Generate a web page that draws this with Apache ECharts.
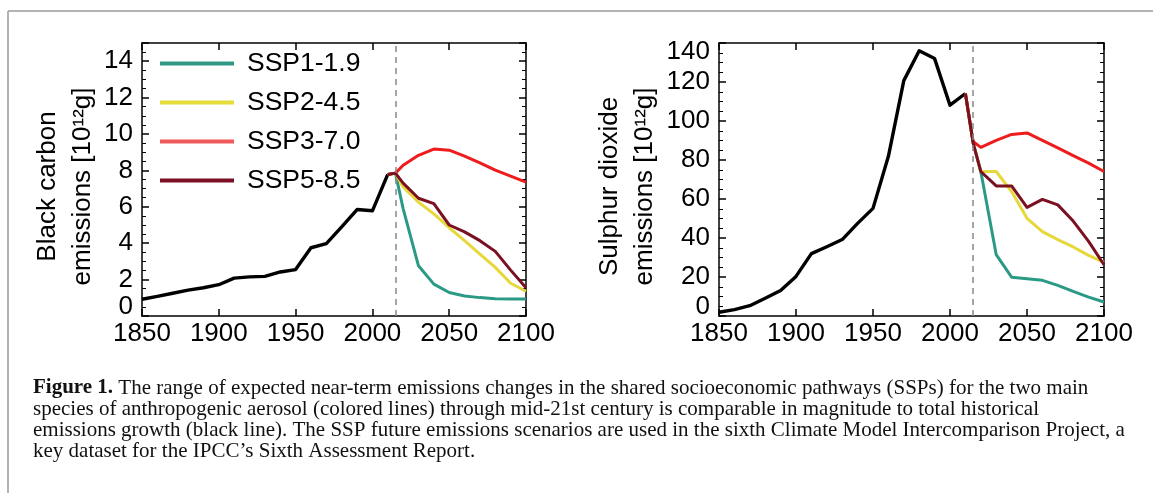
<!DOCTYPE html>
<html><head><meta charset="utf-8">
<script src="https://cdn.jsdelivr.net/npm/echarts@6/dist/echarts.min.js"></script>
<style>html,body{margin:0;padding:0;background:#fff}#c{width:1153px;height:493px}</style>
</head><body><div id="c"></div>
<script>
// ---- data ----
const histYears = [1850,1860,1870,1880,1890,1900,1910,1920,1930,1940,1950,1960,1970,1980,1990,2000,2010];
const sspYears  = [2010,2015,2020,2030,2040,2050,2060,2070,2080,2090,2100];

const bcHist   = [0.92,1.08,1.25,1.42,1.55,1.72,2.08,2.15,2.18,2.42,2.55,3.75,3.98,4.9,5.85,5.78,7.78];
const bcSsp119 = [7.78,7.85,5.9,2.76,1.75,1.29,1.1,1.01,0.95,0.93,0.93];
const bcSsp245 = [7.78,7.85,7.09,6.26,5.61,4.85,4.14,3.4,2.67,1.8,1.36];
const bcSsp370 = [7.78,7.85,8.28,8.83,9.17,9.11,8.78,8.41,8.01,7.68,7.36];
const bcSsp585 = [7.78,7.85,7.3,6.47,6.17,5.0,4.62,4.14,3.55,2.52,1.55];

const so2Hist   = [1.9,3.3,5.3,9.1,13.1,20.3,32,35.5,39.2,47.5,55.2,81.9,120.7,136,132,108.1,114.1];
const so2Ssp119 = [114.1,88.8,74.1,31.5,19.9,19.1,18.3,15.7,12.6,9.7,7.2];
const so2Ssp245 = [114.1,88.8,74.1,74.1,63.8,50.1,43.3,39.2,35.4,31.1,27.5];
const so2Ssp370 = [114.1,89.5,86.5,90.1,93.1,93.9,90.1,86.2,82.2,78.4,74.1];
const so2Ssp585 = [114.1,88.8,74.1,66.7,66.7,55.7,59.8,57,48.7,38.3,26.3];

const sspNames  = ['SSP1-1.9','SSP2-4.5','SSP3-7.0','SSP5-8.5'];
const xTicks    = [1850,1900,1950,2000,2050,2100];
const bcTicks   = [0,2,4,6,8,10,12,14];
const so2Ticks  = [0,20,40,60,80,100,120,140];
const dividerYear = 2015;

// ---- styles ----
const sspColors   = ['#2A9A86','#E6D83A','#EE1C1C','#7A1022'];
const legendColors= ['#2E9A86','#E6DC3C','#F05A5A','#7A1022'];
const SANS = 'Liberation Sans, Arial, Helvetica, sans-serif';
const SERIF = 'Liberation Serif, Times New Roman, serif';
const TICK_FS = 26;

const pair = (xs, ys) => xs.map((x, i) => [x, ys[i]]);

function xAxes(grid) {
  const base = {
    type: 'value', gridIndex: grid, min: 1850, max: 2100, interval: 50,
    axisLine: {show: true, onZero: false, lineStyle: {color: '#000', width: 1.5}},
    axisTick: {show: true, inside: true, length: 7, lineStyle: {color: '#000', width: 1.5}},
    splitLine: {show: false}
  };
  return [
    Object.assign({}, base, {position: 'bottom',
      axisLabel: {show: true, margin: 5, color: '#000', fontFamily: SANS, fontSize: TICK_FS,
        formatter: v => xTicks.includes(v) ? String(v) : ''}}),
    Object.assign({}, base, {position: 'top', axisLabel: {show: false}})
  ];
}

function yAxes(grid, max, interval, ticks, name, nameGap) {
  const base = {
    type: 'value', gridIndex: grid, min: 0, max: max, interval: interval,
    axisLine: {show: true, onZero: false, lineStyle: {color: '#000', width: 1.5}},
    axisTick: {show: true, inside: true, length: 7, lineStyle: {color: '#000', width: 1.5}},
    minorTick: {show: true, splitNumber: 4, length: 4, lineStyle: {color: '#000', width: 1}},
    splitLine: {show: false}, minorSplitLine: {show: false}
  };
  const topV = ticks[ticks.length - 1];
  return [
    Object.assign({}, base, {position: 'left',
      name: name, nameLocation: 'middle', nameGap: nameGap,
      nameTextStyle: {color: '#000', fontFamily: SANS, fontSize: 26, lineHeight: 35, padding: [0, 14, 0, 0]},
      axisLabel: {show: true, margin: 9, color: '#000', fontFamily: SANS, fontSize: TICK_FS,
        formatter: v => {
          if (!ticks.includes(v)) return '';
          if (v === 0) return '{lo|0}';
          if (v === topV && topV === max) return '{hi|' + v + '}';
          return String(v);
        },
        rich: {
          lo: {fontFamily: SANS, fontSize: TICK_FS, color: '#000', padding: [0, 0, 18, 0]},
          hi: {fontFamily: SANS, fontSize: TICK_FS, color: '#000', padding: [18, 0, 0, 0]}
        }}}),
    Object.assign({}, base, {position: 'right', axisLabel: {show: false}})
  ];
}

function chartSeries(xIdx, yIdx, hist, ssps) {
  const out = [{
    name: 'Historical', type: 'line', xAxisIndex: xIdx, yAxisIndex: yIdx,
    data: pair(histYears, hist), symbol: 'none', color: '#000',
    lineStyle: {color: '#000', width: 3.4, join: 'round'},
    markLine: {silent: true, symbol: 'none', label: {show: false},
      lineStyle: {color: '#888', width: 1.5, type: [6, 5]},
      data: [{xAxis: dividerYear}]}
  }];
  ssps.forEach((vals, i) => out.push({
    name: sspNames[i], type: 'line', xAxisIndex: xIdx, yAxisIndex: yIdx,
    data: pair(sspYears, vals), symbol: 'none', color: sspColors[i],
    lineStyle: {color: sspColors[i], width: 3, join: 'round'}
  }));
  return out;
}

const captionText =
  '{b|Figure 1.} The range of expected near-term emissions changes in the shared socioeconomic pathways (SSPs) for the two main\n' +
  'species of anthropogenic aerosol (colored lines) through mid-21st century is comparable in magnitude to total historical\n' +
  'emissions growth (black line). The SSP future emissions scenarios are used in the sixth Climate Model Intercomparison Project, a\n' +
  'key dataset for the IPCC\u2019s Sixth Assessment Report.';

const chart = echarts.init(document.getElementById('c'), null, {renderer: 'canvas'});
chart.setOption({
  animation: false,
  backgroundColor: '#fff',
  grid: [
    {left: 142, top: 43, width: 384, height: 273},
    {left: 719, top: 43, width: 385, height: 273}
  ],
  xAxis: [].concat(xAxes(0), xAxes(1)),
  yAxis: [].concat(
    yAxes(0, 15, 2, bcTicks, 'Black carbon\nemissions [10\u00b9\u00b2g]', 40),
    yAxes(1, 140, 20, so2Ticks, 'Sulphur dioxide\nemissions [10\u00b9\u00b2g]', 56)
  ),
  legend: {
    left: 160, top: 50, padding: 0, orient: 'vertical', icon: 'rect', itemWidth: 74, itemHeight: 4,
    itemGap: 12, selectedMode: false,
    data: sspNames.map((n, i) => ({name: n, itemStyle: {color: legendColors[i]}})),
    textStyle: {color: '#000', fontFamily: SANS, fontSize: 26.5, lineHeight: 26.5, padding: [0, 0, 0, 8]}
  },
  series: [].concat(
    chartSeries(0, 0, bcHist, [bcSsp119, bcSsp245, bcSsp370, bcSsp585]),
    chartSeries(2, 2, so2Hist, [so2Ssp119, so2Ssp245, so2Ssp370, so2Ssp585])
  ),
  graphic: [
    {type: 'line', silent: true, shape: {x1: 8, y1: 11, x2: 1153, y2: 11}, style: {stroke: '#9a9a9a', lineWidth: 1.5}},
    {type: 'line', silent: true, shape: {x1: 8, y1: 11, x2: 8, y2: 493}, style: {stroke: '#9a9a9a', lineWidth: 1.5}},
    {type: 'text', silent: true, x: 33, y: 377.5,
      style: {text: captionText, fill: '#111', fontFamily: SERIF, fontSize: 21, lineHeight: 21,
        verticalAlign: 'top', align: 'left',
        rich: {b: {fontFamily: SERIF, fontSize: 21, fontWeight: 'bold', fill: '#111', lineHeight: 21}}}}
  ]
});
</script>
</body></html>
